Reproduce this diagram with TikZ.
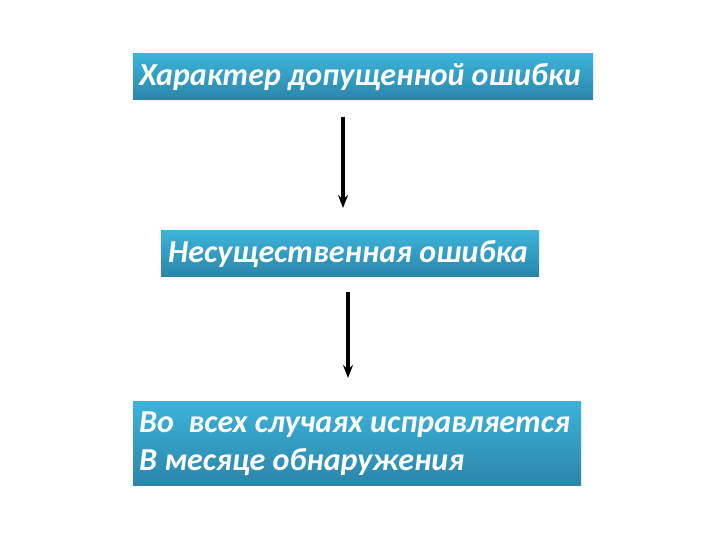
\documentclass[tikz,border=0pt]{standalone}
\usepackage{fontspec}
\setmainfont{Carlito}
\usetikzlibrary{arrows.meta}
\begin{document}
\begin{tikzpicture}[x=1pt,y=-1pt,
  txt/.style={text=white,font=\fontsize{32}{38}\selectfont\bfseries\itshape,anchor=west,align=left,inner sep=0pt},
  arr/.style={line width=3.6pt,-{Stealth[length=13pt,width=10pt]}}]
\useasboundingbox (0,0) rectangle (720,540);
\fill[white] (0,0) rectangle (720,540);
\definecolor{topc}{HTML}{3DB3DA}
\definecolor{botc}{HTML}{2A86AA}
\shade[top color=topc,bottom color=botc] (133,54) rectangle (593,100);
\node[txt] (a) at (139,77) {Характер допущенной ошибки};
\coordinate (a1) at (343,117);
\shade[top color=topc,bottom color=botc] (161,231) rectangle (539,276);
\node[txt] (b) at (168,254) {Несущественная ошибка};
\coordinate (b0) at (343,208);
\coordinate (b1) at (348,292);
\shade[top color=topc,bottom color=botc] (133,401) rectangle (581,485);
\node[txt] (c) at (139,444) {Во\ \ всех случаях исправляется\\В месяце обнаружения};
\coordinate (c0) at (348,378);
\draw[arr] (a1) -- (b0);
\draw[arr] (b1) -- (c0);
\end{tikzpicture}
\end{document}
